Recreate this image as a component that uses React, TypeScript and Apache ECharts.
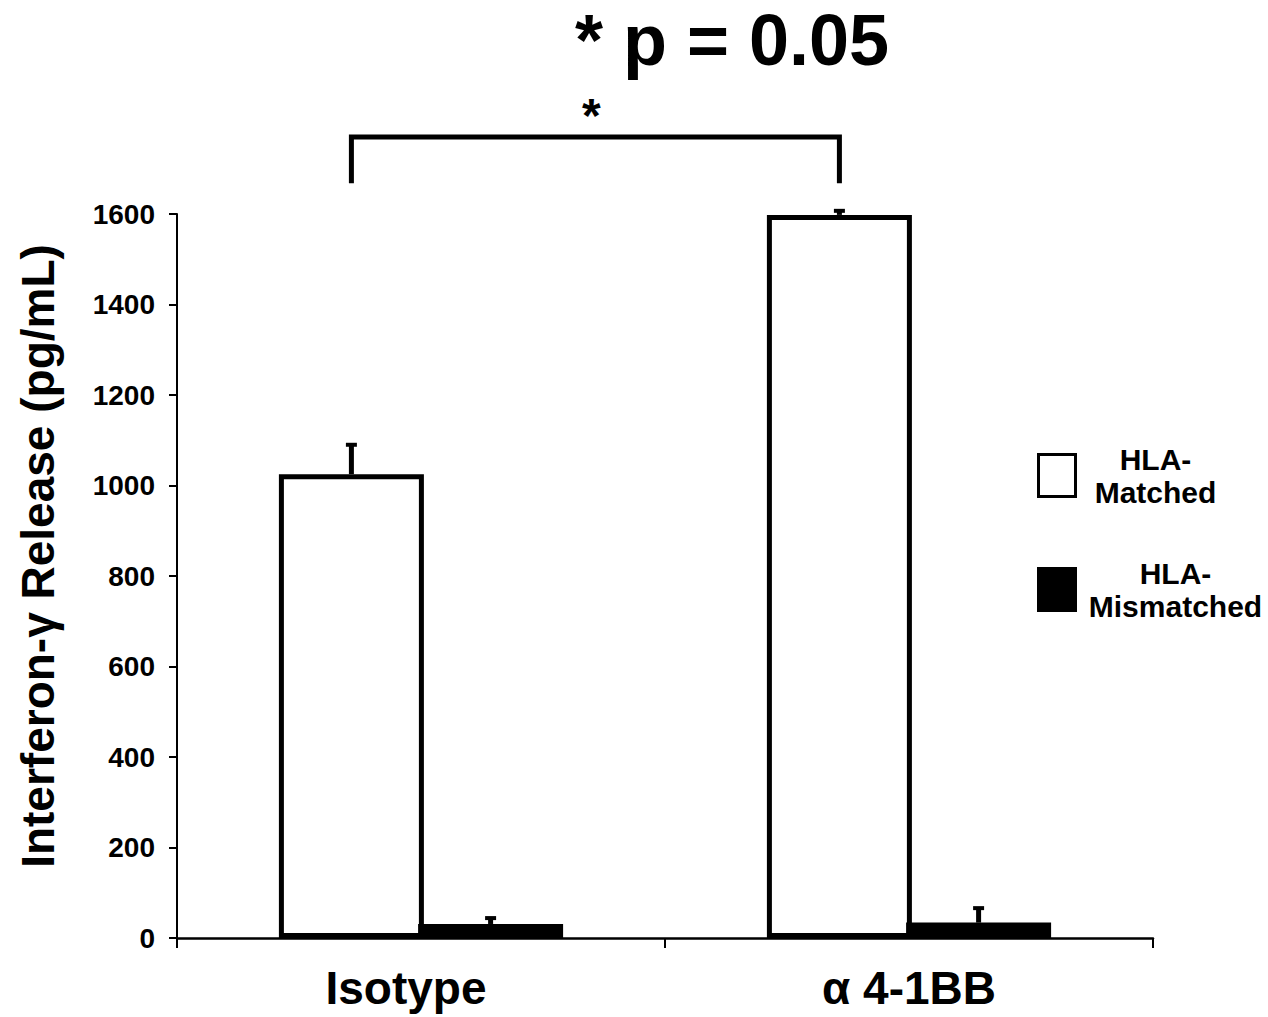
import React, { useEffect, useRef } from "react";
import * as echarts from "echarts";

const categories = ["Isotype", "α 4-1BB"];
const seriesNames = ["HLA-Matched", "HLA-Mismatched"];
const matchedValues = [1025, 1598];
const mismatchedValues = [31, 34];
const matchedErrTop = [1090, 1607];
const mismatchedErrTop = [44, 66];
// bracket: from category, to category, top value, leg-bottom value
const bracketSpec = [0, 1, 1770, 1668];
const yMin = 0;
const yMax = 1600;
const yInterval = 200;
const titleText = "* p = 0.05";
const yAxisTitle = "Interferon-γ Release (pg/mL)";

const FONT = '"Liberation Sans", Arial, Helvetica, sans-serif';
const BAR_W = 145;
const BAR_GAP = -0.04;
const HALF_STEP = (BAR_W * (1 + BAR_GAP)) / 2;

export default function App() {
  const ref = useRef<HTMLDivElement>(null);
  useEffect(() => {
    if (!ref.current) return;
    const chart = echarts.init(ref.current, null, { renderer: "svg" });

    const errRender = (offset: number) => (params: any, api: any) => {
      const cat = api.value(0);
      const base = api.coord([cat, api.value(1)]);
      const top = api.coord([cat, api.value(2)]);
      const x = base[0] + offset;
      return {
        type: "group",
        children: [
          { type: "line", shape: { x1: x, y1: base[1], x2: x, y2: top[1] }, style: { stroke: "#000", lineWidth: 5 } },
          { type: "line", shape: { x1: x - 5.5, y1: top[1], x2: x + 5.5, y2: top[1] }, style: { stroke: "#000", lineWidth: 4 } },
        ],
      };
    };

    const option: any = {
      animation: false,
      backgroundColor: "#fff",
      textStyle: { fontFamily: FONT },
      grid: { left: 177, right: 115, top: 214, bottom: 79, containLabel: false },
      graphic: [
        {
          type: "text",
          x: 732,
          y: 4,
          style: { text: titleText, fill: "#000", fontSize: 72, fontWeight: "bold", fontFamily: FONT, align: "center", verticalAlign: "top" },
        },
      ],
      legend: {
        orient: "vertical",
        left: 1037,
        top: 444,
        padding: 0,
        itemGap: 51,
        itemWidth: 37,
        itemHeight: 42,
        icon: "rect",
        itemStyle: { borderWidth: 3, borderColor: "#000" },
        data: seriesNames,
        formatter: (name: string) =>
          name === seriesNames[0] ? "{a|HLA-}\n{a|Matched}" : "{b|HLA-}\n{b|Mismatched}",
        textStyle: {
          color: "#000",
          rich: {
            a: { fontSize: 30, fontWeight: "bold", fontFamily: FONT, lineHeight: 33, width: 150, align: "center", color: "#000" },
            b: { fontSize: 30, fontWeight: "bold", fontFamily: FONT, lineHeight: 33, width: 190, align: "center", color: "#000" },
          },
        },
      },
      xAxis: {
        type: "category",
        data: [
          { value: categories[0], textStyle: { padding: [0, 30, 0, 0] } },
          { value: categories[1] },
        ],
        axisLine: { lineStyle: { color: "#000", width: 2.5 } },
        axisTick: { show: true, length: 10, lineStyle: { color: "#000", width: 2 } },
        axisLabel: { color: "#000", fontSize: 46, fontWeight: "bold", fontFamily: FONT, margin: 27 },
        splitLine: { show: false },
      },
      yAxis: {
        type: "value",
        min: yMin,
        max: yMax,
        interval: yInterval,
        name: yAxisTitle,
        nameLocation: "middle",
        nameGap: 116,
        nameTextStyle: { color: "#000", fontSize: 46, fontWeight: "bold", fontFamily: FONT, padding: [0, 0, 0, 40] },
        axisLine: { show: true, lineStyle: { color: "#000", width: 2 } },
        axisTick: { show: true, length: 8, lineStyle: { color: "#000", width: 2 } },
        axisLabel: {
          color: "#000",
          fontSize: 28,
          fontWeight: "bold",
          fontFamily: FONT,
          margin: 22,
          formatter: (v: number) => String(v),
        },
        splitLine: { show: false },
      },
      series: [
        {
          name: seriesNames[0],
          type: "bar",
          barWidth: BAR_W,
          barGap: `${BAR_GAP * 100}%`,
          data: matchedValues,
          itemStyle: { color: "#fff", borderColor: "#000", borderWidth: 5 },
          z: 2,
        },
        {
          name: seriesNames[1],
          type: "bar",
          barWidth: BAR_W,
          barGap: `${BAR_GAP * 100}%`,
          data: mismatchedValues,
          itemStyle: { color: "#000", borderColor: "#000", borderWidth: 0 },
          z: 3,
        },
        {
          type: "custom",
          z: 4,
          silent: true,
          clip: false,
          encode: { x: 0, y: [1, 2] },
          data: matchedValues.map((v, i) => [i, v, matchedErrTop[i]]),
          renderItem: errRender(-HALF_STEP),
        },
        {
          type: "custom",
          z: 4,
          silent: true,
          clip: false,
          encode: { x: 0, y: [1, 2] },
          data: mismatchedValues.map((v, i) => [i, v, mismatchedErrTop[i]]),
          renderItem: errRender(HALF_STEP),
        },
        {
          type: "custom",
          z: 5,
          silent: true,
          clip: false,
          encode: { x: [0, 1], y: [2, 3] },
          data: [bracketSpec],
          renderItem: (params: any, api: any) => {
            const a = api.coord([api.value(0), api.value(2)]);
            const b = api.coord([api.value(1), api.value(2)]);
            const aBot = api.coord([api.value(0), api.value(3)]);
            const x1 = a[0] - HALF_STEP;
            const x2 = b[0] - HALF_STEP;
            return {
              type: "group",
              children: [
                {
                  type: "polyline",
                  shape: { points: [[x1, aBot[1]], [x1, a[1]], [x2, a[1]], [x2, aBot[1]]] },
                  style: { stroke: "#000", lineWidth: 5, fill: "none" },
                },
                {
                  type: "text",
                  x: (x1 + x2) / 2 - 4,
                  y: a[1] - 46,
                  style: { text: "*", fill: "#000", fontSize: 48, fontWeight: "bold", fontFamily: FONT, align: "center", verticalAlign: "top" },
                },
              ],
            };
          },
        },
      ],
    };
    chart.setOption(option);
    return () => chart.dispose();
  }, []);
  return <div ref={ref} style={{ position: "fixed", left: 0, top: 0, width: 1268, height: 1017 }} />;
}
